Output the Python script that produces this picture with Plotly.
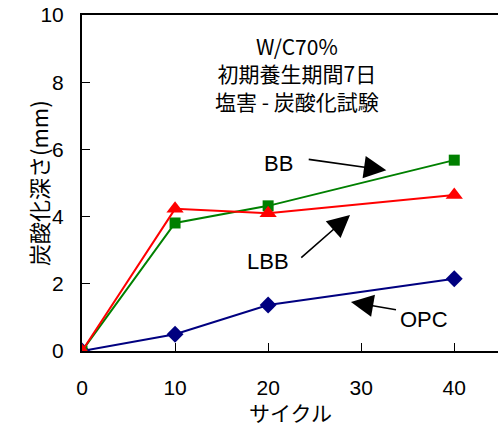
import plotly.graph_objects as go

cycles = [0, 10, 20, 40]
opc = [0.0, 0.5, 1.37, 2.15]
bb = [0.0, 3.81, 4.32, 5.68]
lbb = [0.0, 4.23, 4.1, 4.64]

x_ticks = [0, 10, 20, 30, 40]
y_ticks = [0, 2, 4, 6, 8, 10]

title_lines = ["W/C70%", "初期養生期間7日", "塩害 - 炭酸化試験"]
x_title = "サイクル"
y_title = "炭酸化深さ(mm)"

JP = "Noto Sans CJK JP"
LAT = "Liberation Sans, Arial"

fig = go.Figure()
fig.add_trace(go.Scatter(x=cycles, y=opc, mode="lines+markers", name="OPC",
                         line=dict(color="#000080", width=2),
                         marker=dict(symbol="diamond", size=13, color="#000080")))
fig.add_trace(go.Scatter(x=cycles, y=bb, mode="lines+markers", name="BB",
                         line=dict(color="#008000", width=2),
                         marker=dict(symbol="square", size=11, color="#008000")))
fig.add_trace(go.Scatter(x=cycles, y=lbb, mode="lines+markers", name="LBB",
                         line=dict(color="#FF0000", width=2),
                         marker=dict(symbol="triangle-up", size=15, color="#FF0000")))

annotations = []
annotations.append(dict(x=23.1, y=8.27, xref="x", yref="y", text="<br>".join(title_lines),
                        showarrow=False, yanchor="middle",
                        font=dict(family=JP, size=21, color="black")))

# labels
for txt, xx, yy in [("BB", 21.1, 5.57), ("LBB", 20.0, 2.65), ("OPC", 36.8, 0.95)]:
    annotations.append(dict(x=xx, y=yy, xref="x", yref="y", text=txt, showarrow=False,
                            font=dict(family=LAT, size=22, color="black")))

# arrows: (tail x, tail y, head x, head y)
for tx, ty, hx, hy in [(24.2, 5.71, 32.7, 5.38), (23.4, 2.74, 28.8, 4.05), (33.9, 1.22, 28.9, 1.46)]:
    annotations.append(dict(x=hx, y=hy, ax=tx, ay=ty, xref="x", yref="y", axref="x", ayref="y",
                            text="", showarrow=True, arrowhead=2, arrowsize=2.8, arrowwidth=1.6,
                            arrowcolor="black"))

annotations.append(dict(x=-0.149, y=0.5, xref="paper", yref="paper", text=y_title,
                        showarrow=False, textangle=-90,
                        font=dict(family=JP, size=22, color="black")))
annotations.append(dict(x=0.5, y=-0.1815, xref="paper", yref="paper", text=x_title,
                        showarrow=False, yanchor="middle",
                        font=dict(family=JP, size=21, color="black")))

fig.update_layout(
    width=498, height=428,
    margin=dict(l=82, r=0, t=15, b=77),
    paper_bgcolor="white", plot_bgcolor="white",
    showlegend=False,
    annotations=annotations,
    xaxis=dict(range=[0, 44.7], tickvals=x_ticks, ticks="inside", ticklen=8, tickwidth=1,
               tickcolor="black", showline=True, linecolor="black", linewidth=2, mirror=True,
               showgrid=False, zeroline=False, ticklabelstandoff=17, automargin=False,
               tickfont=dict(family=LAT, size=21, color="black")),
    yaxis=dict(range=[0, 10], tickvals=y_ticks, ticks="inside", ticklen=8, tickwidth=1,
               tickcolor="black", showline=True, linecolor="black", linewidth=2,
               showgrid=False, zeroline=False, ticklabelstandoff=12, automargin=False,
               tickfont=dict(family=LAT, size=21, color="black")),
)

fig.write_html("out.html", config={"displayModeBar": False},
               post_script="document.body.style.margin='0';document.body.style.overflow='hidden';")
